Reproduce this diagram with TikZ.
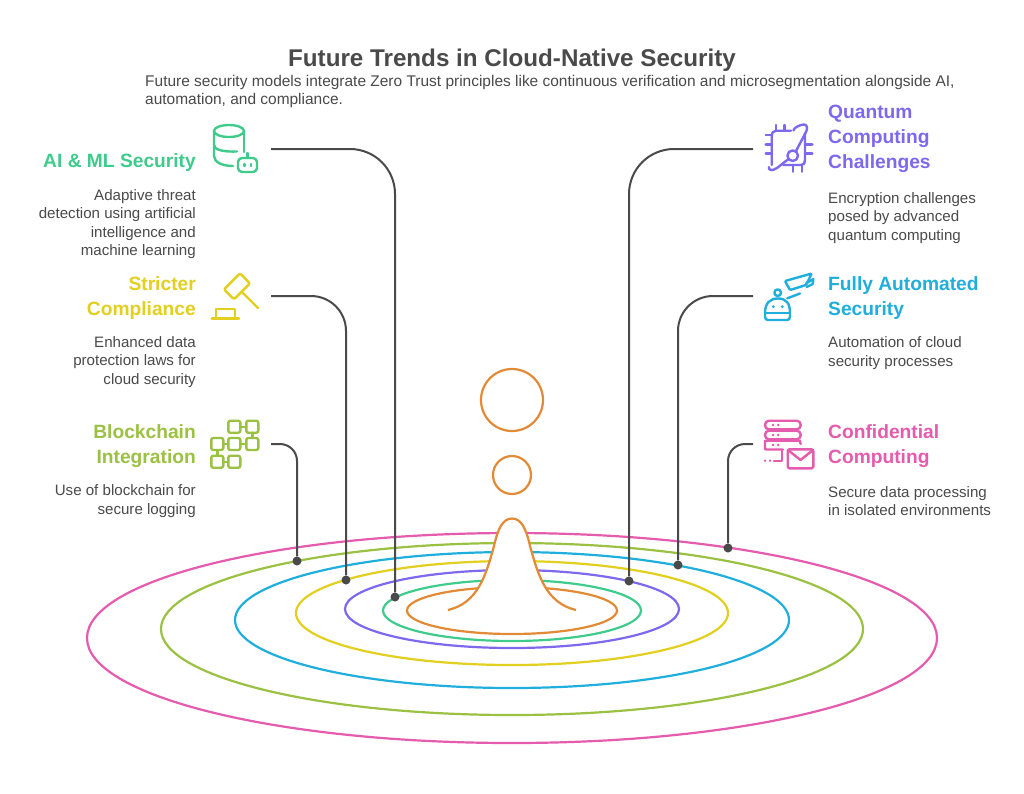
\documentclass[tikz,border=0pt]{standalone}
\usepackage{fontspec}
\setmainfont{Liberation Sans}
\definecolor{cpink}{HTML}{E55BAE}
\definecolor{colive}{HTML}{9BC143}
\definecolor{cblue}{HTML}{20AEDC}
\definecolor{cyellow}{HTML}{E2CF1E}
\definecolor{cpurple}{HTML}{7D68EE}
\definecolor{cgreen}{HTML}{3ECB8C}
\definecolor{corange}{HTML}{E28A35}
\definecolor{cdark}{HTML}{4A4A4A}
\tikzset{
 ring/.style={line width=2.2pt},
 link/.style={draw=cdark,line width=2pt,rounded corners=45pt},
 dot/.style={circle,fill=cdark,inner sep=0pt,minimum size=9pt},
 head/.style={font=\fontsize{19.2}{25}\selectfont\bfseries,inner sep=0pt},
 body/.style={font=\fontsize{15.1}{18.4}\selectfont,text=cdark,inner sep=0pt},
 lefttext/.style={anchor=east,align=right},
 righttext/.style={anchor=west,align=left},
 ico/.style={line width=2.4pt,line cap=round,line join=round,fill=none},
}
\begin{document}
\begin{tikzpicture}[x=1pt,y=-1pt]
\useasboundingbox (0,0) rectangle (1024,793);
\fill[white] (0,0) rectangle (1024,793);
% rings
\draw[ring,cpink] (512,638) ellipse [x radius=425,y radius=105];
\draw[ring,colive] (512,629) ellipse [x radius=351,y radius=86];
\draw[ring,cblue] (512,620) ellipse [x radius=277,y radius=68];
\draw[ring,cyellow] (512,613) ellipse [x radius=216,y radius=52];
\draw[ring,cpurple] (512,609) ellipse [x radius=167,y radius=39];
\draw[ring,cgreen] (512,610.5) ellipse [x radius=129,y radius=30.5];
\draw[ring,corange] (512,610.5) ellipse [x radius=105,y radius=23.5];
% bell
\fill[white] (448,610) .. controls (478,603) and (486,575) .. (494,546) .. controls (498,528) and (503,518.5) .. (512,518.5) .. controls (521,518.5) and (526,528) .. (530,546) .. controls (538,575) and (546,603) .. (576,610) -- cycle;
\draw[ring,corange] (448,610) .. controls (478,603) and (486,575) .. (494,546) .. controls (498,528) and (503,518.5) .. (512,518.5) .. controls (521,518.5) and (526,528) .. (530,546) .. controls (538,575) and (546,603) .. (576,610);
\node[draw=corange,line width=2.2pt,circle,minimum size=62pt,inner sep=0pt] (bigdrop) at (512,400) {};
\node[draw=corange,line width=2.2pt,circle,minimum size=38pt,inner sep=0pt] (smalldrop) at (512,475) {};
% title
\node[font=\fontsize{24.2}{30}\selectfont\bfseries,text=cdark,inner sep=0pt] (title) at (512,60.5) {Future Trends in Cloud-Native Security};
\node[anchor=north west,align=left,body,font=\fontsize{15.47}{18.4}\selectfont] (subtitle) at (145,75) {Future security models integrate Zero Trust principles like continuous verification and microsegmentation alongside AI,\\automation, and compliance.};
% left texts
\node[head,lefttext,text=cgreen] (h1) at (196,163) {AI \& ML Security};
\node[body,lefttext] (b1) at (196,224) {Adaptive threat\\detection using artificial\\intelligence and\\machine learning};
\node[head,lefttext,text=cyellow] (h2) at (196,298.5) {Stricter\\Compliance};
\node[body,lefttext] (b2) at (196,362) {Enhanced data\\protection laws for\\cloud security};
\node[head,lefttext,text=colive] (h3) at (196,446.5) {Blockchain\\Integration};
\node[body,lefttext] (b3) at (196,501) {Use of blockchain for\\secure logging};
% right texts
\node[head,righttext,text=cpurple] (h4) at (828,139) {Quantum\\Computing\\Challenges};
\node[body,righttext] (b4) at (828,218) {Encryption challenges\\posed by advanced\\quantum computing};
\node[head,righttext,text=cblue] (h5) at (828,298.5) {Fully Automated\\Security};
\node[body,righttext] (b5) at (828,353) {Automation of cloud\\security processes};
\node[head,righttext,text=cpink] (h6) at (828,446.5) {Confidential\\Computing};
\node[body,righttext] (b6) at (828,501) {Secure data processing\\in isolated environments};
% connectors
\coordinate (s1) at (271,149); \node[dot] (d1) at (395,597) {};
\coordinate (s2) at (271,296); \node[dot] (d2) at (346,580) {};
\coordinate (s3) at (271,444); \node[dot] (d3) at (297,561) {};
\coordinate (s4) at (753,149); \node[dot] (d4) at (629,581) {};
\coordinate (s5) at (753,296); \node[dot] (d5) at (678,565) {};
\coordinate (s6) at (753,444); \node[dot] (d6) at (728,548) {};
\draw[link] (s1) -| (d1);
\draw[link,rounded corners=35pt] (s2) -| (d2);
\draw[link,rounded corners=17pt] (s3) -| (d3);
\draw[link] (s4) -| (d4);
\draw[link,rounded corners=35pt] (s5) -| (d5);
\draw[link,rounded corners=17pt] (s6) -| (d6);
% icon: database + bot
\begin{scope}[ico,draw=cgreen]
\draw (229,131) ellipse [x radius=15,y radius=6];
\draw (214,131) -- (214,156) .. controls (214,162) and (222,166) .. (233,166);
\draw (244,131) -- (244,152);
\draw (214,145) .. controls (214,150) and (224,152) .. (237,151.5);
\draw[rounded corners=4pt] (238,158) rectangle (257,172);
\draw (247.5,153) -- (247.5,158);
\draw (244.5,164) -- (244.5,166);
\draw (251,164) -- (251,166);
\end{scope}
% icon: gavel
\begin{scope}[ico,draw=cyellow]
\draw[rounded corners=2pt] (240,273.3) -- (250,283.3) -- (234,299.3) -- (224,289.3) -- cycle;
\draw (243,293) -- (258,308);
\draw (215.7,318.3) -- (215.7,309) -- (235,309) -- (235,318.3);
\draw (211.7,318.3) -- (239,318.3);
\end{scope}
% icon: blockchain
\begin{scope}[ico,draw=colive]
\foreach \px/\py in {234.3/426.7,252.3/426.7,217.3/444,234.3/444,252.3/444,217.3/461.7,234.3/461.7}{
 \draw[rounded corners=2pt] (\px-6,\py-6) rectangle (\px+6,\py+6);
}
\draw (240.3,426.7) -- (246.3,426.7);
\draw (223.3,444) -- (228.3,444);
\draw (240.3,444) -- (246.3,444);
\draw (223.3,461.7) -- (228.3,461.7);
\draw (252.3,432.7) -- (252.3,438);
\draw (217.3,450) -- (217.3,455.7);
\end{scope}
% icon: quantum chip
\begin{scope}[ico,draw=cpurple]
\draw (771.7,165) -- (771.7,137) .. controls (771.7,133) and (773,130.7) .. (776,130.7) -- (791,130.7);
\draw (776,125) -- (776,130.7);
\draw (784.5,125) -- (784.5,130.7);
\draw (765.7,135) -- (771.7,135);
\draw (765.7,144.3) -- (771.7,144.3);
\draw (765.7,153.3) -- (771.7,153.3);
\draw (805,144.3) -- (812.3,144.3);
\draw (805,153.3) -- (812.3,153.3);
\draw (805,133) -- (805,160) .. controls (805,163) and (804,165) .. (801,165) -- (783.3,165);
\draw (792.7,165) -- (792.7,171.7);
\draw (801.7,165) -- (801.7,171.7);
\draw (792.7,155.7) circle [radius=5.3];
\draw (796,151) -- (806,132) .. controls (809,125) and (805,123.5) .. (801,125) .. controls (797,126.5) and (794,128) .. (793.5,130.5);
\draw (788.5,159) -- (777,168) .. controls (772,171.5) and (768,170) .. (769,167);
\end{scope}
% icon: robot camera
\begin{scope}[ico,draw=cblue]
\draw (765,316) -- (765,313) .. controls (765,303) and (770,298.5) .. (778,298.5) .. controls (786,298.5) and (790,303) .. (790,313) -- (790,316) .. controls (790,319) and (789,320) .. (787,320) -- (768,320) .. controls (766,320) and (765,319) .. (765,316) -- cycle;
\draw (766,312.7) -- (789,312.7);
\draw (777.7,292.7) circle [radius=3.3];
\fill[cblue] (773.3,306.7) circle [radius=1.6];
\fill[cblue] (782.3,306.7) circle [radius=1.6];
\draw[rounded corners=1pt] (785,281) -- (811.7,273.5) -- (806,285) -- (790,290) -- cycle;
\draw (806,283.5) -- (813.3,279) -- (812.7,284) -- (806.7,287);
\draw (787.3,298.3) -- (800,293.5);
\end{scope}
% icon: server mail
\begin{scope}[ico,draw=cpink]
\draw[rounded corners=4pt] (765,420.7) rectangle (800.7,429.3);
\draw[rounded corners=4pt] (765,430.7) rectangle (800.7,439.3);
\draw[rounded corners=4pt] (783,449.5) -- (770,449.5) .. controls (766,449.5) and (765,447) .. (765,445) .. controls (765,442) and (766,440.7) .. (770,440.7) -- (796,440.7) .. controls (799,440.7) and (800.7,442) .. (800.7,444);
\foreach \py in {425,435,445}{
 \fill[cpink] (773,\py) circle [radius=1.4];
 \fill[cpink] (778.3,\py) circle [radius=1.4];
}
\fill[cpink] (765,460.7) circle [radius=1.3];
\fill[cpink] (770,460.7) circle [radius=1.3];
\draw (774,460.7) -- (781.7,460.7) -- (781.7,450);
\draw[rounded corners=1.5pt] (787.7,449.3) rectangle (813.3,468.3);
\draw (788,450) -- (800.5,460) -- (813,450);
\end{scope}
\end{tikzpicture}
\end{document}
